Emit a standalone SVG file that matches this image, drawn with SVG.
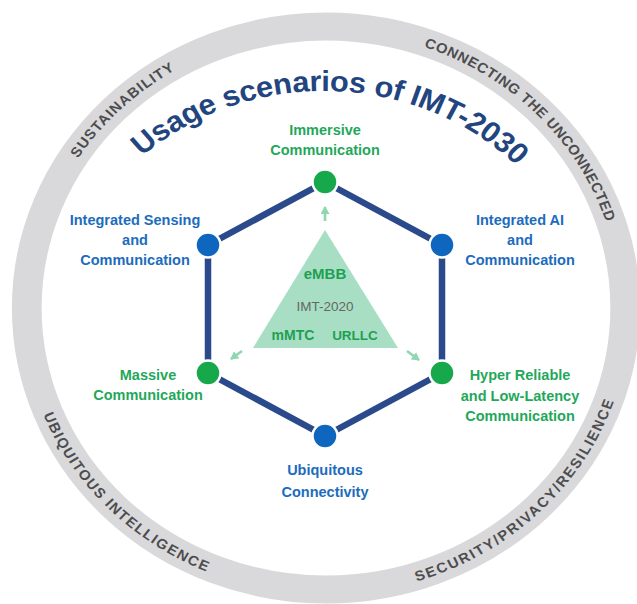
<svg xmlns="http://www.w3.org/2000/svg" width="637" height="604" viewBox="0 0 637 604">
  <style>
    .ring-text { font-family: "Liberation Sans", Arial, sans-serif; font-weight: bold; font-size: 14px; fill: #4d4d4f; }
    .title { font-family: "Liberation Sans", Arial, sans-serif; font-weight: bold; font-size: 29px; fill: #22457f; letter-spacing: -0.3px; }
    .lbl { font-family: "Liberation Sans", Arial, sans-serif; font-weight: bold; font-size: 14.5px; text-anchor: middle; }
    .blue { fill: #1c6cbd; }
    .green { fill: #1fa85a; }
    .node-blue { fill: #0f66bf; stroke: #ffffff; stroke-width: 2.5; }
    .node-green { fill: #16a84a; stroke: #ffffff; stroke-width: 2.5; }
    .tri-b { font-family: "Liberation Sans", Arial, sans-serif; font-weight: bold; fill: #1e9f52; text-anchor: middle; }
    .arrow { stroke: #8fd6b1; stroke-width: 2.6; fill: none; marker-end: url(#ah); }
  </style>
  <defs>
    <marker id="ah" markerUnits="userSpaceOnUse" markerWidth="9" markerHeight="9" refX="7" refY="4.5" orient="auto">
      <path d="M0,0 L8,4.5 L0,9 Z" fill="#8fd6b1"/>
    </marker>
    <path id="p-sust" d="M50.5,279 A277,277 0 0 1 306.7,31.7"/>
    <path id="p-conn" d="M257.6,39.6 A277,277 0 0 1 592.7,383"/>
    <path id="p-ubiq" d="M49.9,231.4 A286.5,286.5 0 0 0 397.7,585.4"/>
    <path id="p-sec" d="M248.5,583.8 A286.5,286.5 0 0 0 603.6,237.2"/>
    <path id="p-title" d="M104.9,213.7 A257,257 0 0 1 549.9,225.4"/>
  </defs>
  <rect width="637" height="604" fill="#ffffff"/>

  <g id="ring" transform="matrix(1.063 0 0 1 -20.54 0)">
    <circle cx="326" cy="308" r="281.5" fill="none" stroke="#d9d9db" stroke-width="28"/>
    <text class="ring-text" style="letter-spacing:1px"><textPath href="#p-sust" startOffset="50%" text-anchor="middle">SUSTAINABILITY</textPath></text>
    <text class="ring-text" style="letter-spacing:0.6px"><textPath href="#p-conn" startOffset="50%" text-anchor="middle">CONNECTING THE UNCONNECTED</textPath></text>
    <text class="ring-text" style="letter-spacing:1.4px"><textPath href="#p-ubiq" startOffset="50%" text-anchor="middle">UBIQUITOUS INTELLIGENCE</textPath></text>
    <text class="ring-text" style="letter-spacing:1.7px"><textPath href="#p-sec" startOffset="50%" text-anchor="middle">SECURITY/PRIVACY/RESILIENCE</textPath></text>
  </g>

  <g id="title" transform="matrix(1.063 0 0 1 -20.54 0)">
    <text class="title"><textPath href="#p-title" startOffset="50%" text-anchor="middle">Usage scenarios of IMT-2030</textPath></text>
  </g>

  <g id="imt2020">
    <polygon points="325,230 398,348 253,348" fill="#a8dfc4"/>
    <text class="tri-b" x="325" y="279" font-size="15">eMBB</text>
    <text x="325" y="311" font-family="Liberation Sans, Arial, sans-serif" font-size="13.5" fill="#666666" text-anchor="middle">IMT-2020</text>
    <text class="tri-b" x="293" y="340" font-size="14">mMTC</text>
    <text class="tri-b" x="355" y="340" font-size="13.5">URLLC</text>
  </g>

  <g id="connectors">
    <path d="M325,182 L442,245 L442,373 L325,436 L208,373 L208,245 Z" fill="none" stroke="#2b4a8b" stroke-width="6.5" stroke-linejoin="round"/>
    <line class="arrow" x1="325" y1="221" x2="325" y2="207"/>
    <line class="arrow" x1="242" y1="351" x2="231" y2="359"/>
    <line class="arrow" x1="407" y1="351" x2="419" y2="360"/>
  </g>

  <g id="node-immersive">
    <circle class="node-green" cx="325" cy="182" r="12.5"/>
    <text class="lbl green" x="325" y="135">Immersive</text>
    <text class="lbl green" x="325" y="155">Communication</text>
  </g>
  <g id="node-ai">
    <circle class="node-blue" cx="442" cy="245" r="12.5"/>
    <text class="lbl blue" x="520" y="225">Integrated AI</text>
    <text class="lbl blue" x="520" y="245">and</text>
    <text class="lbl blue" x="520" y="265">Communication</text>
  </g>
  <g id="node-hrllc">
    <circle class="node-green" cx="442" cy="373" r="12.5"/>
    <text class="lbl green" x="520" y="380">Hyper Reliable</text>
    <text class="lbl green" x="520" y="401">and Low-Latency</text>
    <text class="lbl green" x="520" y="421">Communication</text>
  </g>
  <g id="node-ubiquitous">
    <circle class="node-blue" cx="325" cy="436" r="12.5"/>
    <text class="lbl blue" x="325" y="475">Ubiquitous</text>
    <text class="lbl blue" x="325" y="497">Connectivity</text>
  </g>
  <g id="node-massive">
    <circle class="node-green" cx="208" cy="373" r="12.5"/>
    <text class="lbl green" x="148" y="380">Massive</text>
    <text class="lbl green" x="148" y="400">Communication</text>
  </g>
  <g id="node-sensing">
    <circle class="node-blue" cx="208" cy="245" r="12.5"/>
    <text class="lbl blue" x="135" y="225">Integrated Sensing</text>
    <text class="lbl blue" x="135" y="245">and</text>
    <text class="lbl blue" x="135" y="265">Communication</text>
  </g>
</svg>
